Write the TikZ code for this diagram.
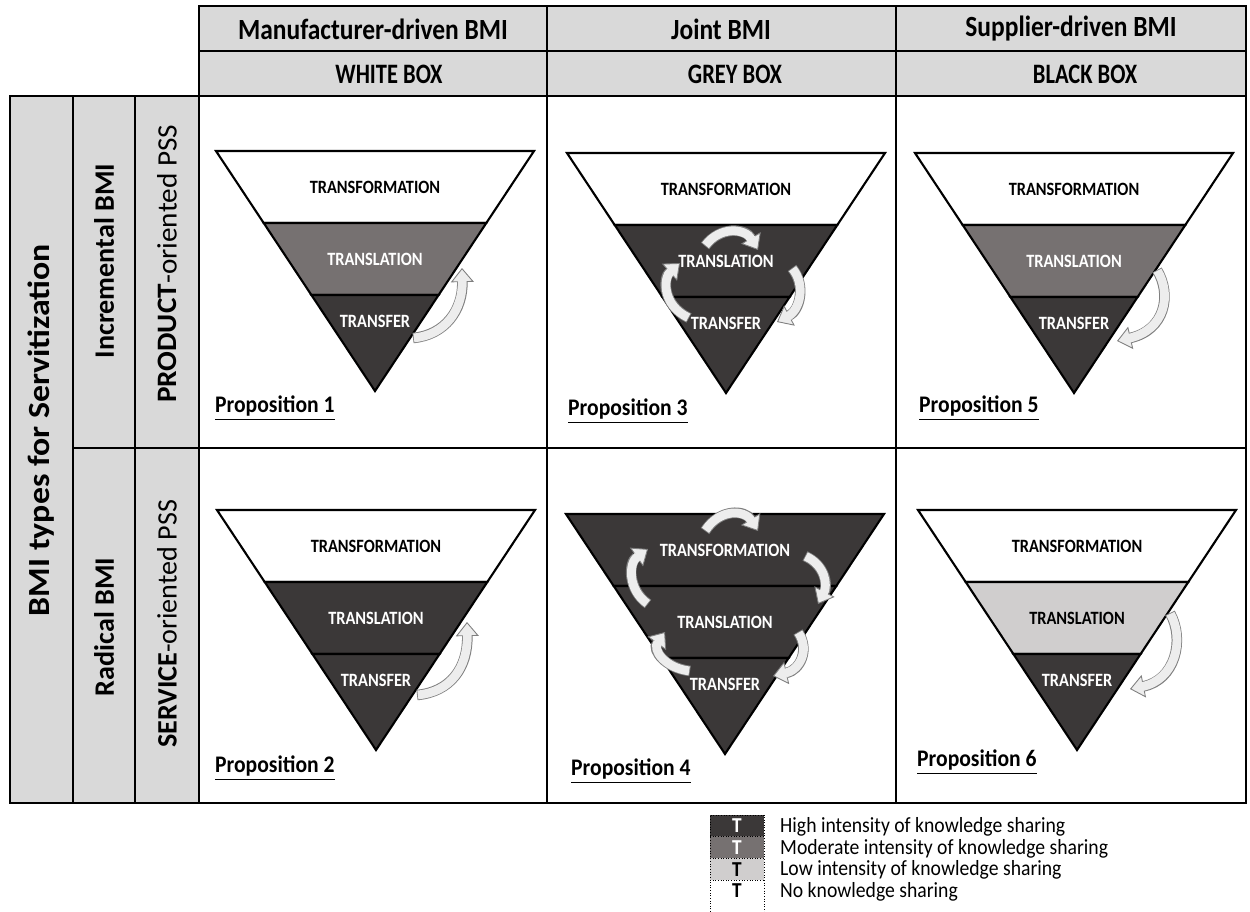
\documentclass[tikz,border=0pt]{standalone}
\usepackage{fontspec}
\usepackage{graphicx}
\setmainfont{Carlito}
\usetikzlibrary{arrows.meta}

\definecolor{hdrgrey}{HTML}{D9D9D9}
\definecolor{highks}{HTML}{3B3838}
\definecolor{modks}{HTML}{767171}
\definecolor{lowks}{HTML}{D0CECE}
\definecolor{flowfill}{HTML}{EDEDED}
\definecolor{flowedge}{HTML}{7F7F7F}

% text of the source is a little taller than wide
\newcommand{\tallt}[2][1.15]{\scalebox{1}[#1]{#2}}

\tikzset{
  cell/.style={draw=black, line width=0.8pt},
  hdrcell/.style={cell, fill=hdrgrey},
  hdrtext/.style={font=\bfseries\fontsize{14.5}{16}\selectfont},
  boxtext/.style={font=\bfseries\fontsize{12.8}{15}\selectfont},
  sidetext/.style={rotate=90, font=\fontsize{16}{18}\selectfont},
  band/.style={draw=black, line width=1.2pt},
  kshigh/.style={fill=highks, text=white},
  ksmod/.style={fill=modks, text=white},
  kslow/.style={fill=lowks, text=black},
  ksnone/.style={fill=white, text=black},
  laytext/.style={font=\bfseries\fontsize{9.3}{11}\selectfont},
  proptext/.style={anchor=west, font=\bfseries\fontsize{12.3}{14}\selectfont},
  flowout/.style={draw=flowedge, line width=6pt,
    -{Triangle[width=13pt, length=8pt, line width=0.5pt, fill=flowfill]}},
  flowin/.style={draw=flowfill, line width=5pt, shorten >=7pt, shorten <=0.5pt},
  legbox/.style={draw=black, densely dotted, line width=0.5pt},
  legtext/.style={anchor=west, font=\fontsize{11.2}{13}\selectfont},
}

% pyramid: name, top-left corner, top / middle / bottom layer styles
\newcommand{\pyramid}[5]{%
  \begin{scope}[shift={#2}]
    \path[band, #3] (0,0) -- (318,0) -- (270.3,72) -- (47.7,72) -- cycle;
    \path[band, #4] (47.7,72) -- (270.3,72) -- (222.6,144) -- (95.4,144) -- cycle;
    \path[band, #5] (95.4,144) -- (222.6,144) -- (159,240) -- cycle;
    \node[laytext, #3, fill=none] (#1-top) at (159,36) {\tallt{TRANSFORMATION}};
    \node[laytext, #4, fill=none] (#1-mid) at (159,108) {\tallt{TRANSLATION}};
    \node[laytext, #5, fill=none] (#1-bot) at (159,170) {\tallt{TRANSFER}};
  \end{scope}}

% block arrow along a curve
\newcommand{\kflow}[1]{\draw[flowout] #1; \draw[flowin] #1;}

\begin{document}
\begin{tikzpicture}[x=0.02cm, y=-0.02cm]
  \useasboundingbox (0,0) rectangle (1250,912);

  % header
  \draw[hdrcell] (199,6) rectangle (547,51);
  \draw[hdrcell] (547,6) rectangle (896,51);
  \draw[hdrcell] (896,6) rectangle (1246,51);
  \draw[hdrcell] (199,51) rectangle (547,96);
  \draw[hdrcell] (547,51) rectangle (896,96);
  \draw[hdrcell] (896,51) rectangle (1246,96);
  \node[hdrtext] (hdr-manu) at (373,29) {\tallt{Manufacturer-driven BMI}};
  \node[hdrtext] (hdr-joint) at (721,29) {\tallt{Joint BMI}};
  \node[hdrtext] (hdr-supp) at (1071,29) {\tallt{Supplier-driven BMI}};
  \node[boxtext] (box-white) at (389,74) {\tallt[1.25]{WHITE BOX}};
  \node[boxtext] (box-grey) at (735,74) {\tallt[1.25]{GREY BOX}};
  \node[boxtext] (box-black) at (1085,74) {\tallt[1.25]{BLACK BOX}};

  % side labels
  \draw[hdrcell] (10,96) rectangle (73,803);
  \draw[hdrcell] (73,96) rectangle (135,448);
  \draw[hdrcell] (73,448) rectangle (135,803);
  \draw[hdrcell] (135,96) rectangle (199,448);
  \draw[hdrcell] (135,448) rectangle (199,803);
  \node[sidetext, font=\bfseries\fontsize{17.5}{20}\selectfont] (side-bmi) at (41,430) {\scalebox{1.1}[1]{BMI types for Servitization}};
  \node[sidetext, font=\bfseries\fontsize{16}{18}\selectfont] (side-incr) at (104,261) {Incremental BMI};
  \node[sidetext, font=\bfseries\fontsize{16}{18}\selectfont] (side-rad) at (104,627) {Radical BMI};
  \node[sidetext] (side-prod) at (167,264) {\scalebox{1.04}[1]{\textbf{PRODUCT}-oriented PSS}};
  \node[sidetext] (side-serv) at (167,624) {\textbf{SERVICE}-oriented PSS};

  % body cells
  \draw[cell] (199,96) rectangle (547,448);
  \draw[cell] (547,96) rectangle (896,448);
  \draw[cell] (896,96) rectangle (1246,448);
  \draw[cell] (199,448) rectangle (547,803);
  \draw[cell] (547,448) rectangle (896,803);
  \draw[cell] (896,448) rectangle (1246,803);

  % pyramids
  \pyramid{pa}{(216,151)}{ksnone}{ksmod}{kshigh}
  \pyramid{pc}{(567,153)}{ksnone}{kshigh}{kshigh}
  \pyramid{pe}{(915,153)}{ksnone}{ksmod}{kshigh}
  \pyramid{pb}{(217,510)}{ksnone}{kshigh}{kshigh}
  \pyramid{pd}{(566,514)}{kshigh}{kshigh}{kshigh}
  \pyramid{pf}{(918,510)}{ksnone}{kslow}{kshigh}

  % knowledge flows
  \kflow{(413,338) .. controls (445,335) and (463,310) .. (462,268)}
  \kflow{(417,695) .. controls (450,692) and (468,668) .. (467,622)}
  \kflow{(1157,270) .. controls (1172,295) and (1165,330) .. (1117,341)}
  \kflow{(1170,613) .. controls (1185,640) and (1175,680) .. (1130,689)}
  \kflow{(705,246) .. controls (720,226) and (745,228) .. (758,250)}
  \kflow{(792,268) .. controls (806,285) and (800,310) .. (777,322)}
  \kflow{(689,318) .. controls (662,305) and (663,278) .. (680,263)}
  \kflow{(705,531) .. controls (720,508) and (745,510) .. (758,531)}
  \kflow{(805,556) .. controls (825,565) and (828,585) .. (818,604)}
  \kflow{(798,632) .. controls (810,650) and (800,670) .. (773,676)}
  \kflow{(690,671) .. controls (665,668) and (652,650) .. (665,632)}
  \kflow{(648,604) .. controls (628,590) and (628,563) .. (648,549)}

  % propositions
  \node[proptext] (prop-1) at (209,408) {\tallt[1.1]{\underline{Proposition 1}}};
  \node[proptext] (prop-3) at (562,411) {\tallt[1.1]{\underline{Proposition 3}}};
  \node[proptext] (prop-5) at (913,408) {\tallt[1.1]{\underline{Proposition 5}}};
  \node[proptext] (prop-2) at (209,768) {\tallt[1.1]{\underline{Proposition 2}}};
  \node[proptext] (prop-4) at (565,771) {\tallt[1.1]{\underline{Proposition 4}}};
  \node[proptext] (prop-6) at (911,762) {\tallt[1.1]{\underline{Proposition 6}}};

  % legend
  \foreach \fc/\tc/\txt [count=\i] in {highks/white/High intensity of knowledge sharing,
      modks/white/Moderate intensity of knowledge sharing,
      lowks/black/Low intensity of knowledge sharing,
      white/black/No knowledge sharing} {
    \fill[\fc] (710,793+21.7*\i) rectangle (764,815+21.7*\i);
    \node[text=\tc, font=\bfseries\fontsize{11}{13}\selectfont] (leg-t-\i) at (737,804+21.7*\i) {\tallt[1.1]{T}};
    \node[legtext] (leg-txt-\i) at (774,805+21.7*\i) {\tallt[1.1]{\txt}};
  }
  \draw[legbox] (710,912) -- (710,815) -- (764,815) -- (764,912);
  \draw[legbox] (710,836.7) -- (764,836.7);
  \draw[legbox] (710,858.4) -- (764,858.4);
  \draw[legbox] (710,880.1) -- (764,880.1);
\end{tikzpicture}
\end{document}
